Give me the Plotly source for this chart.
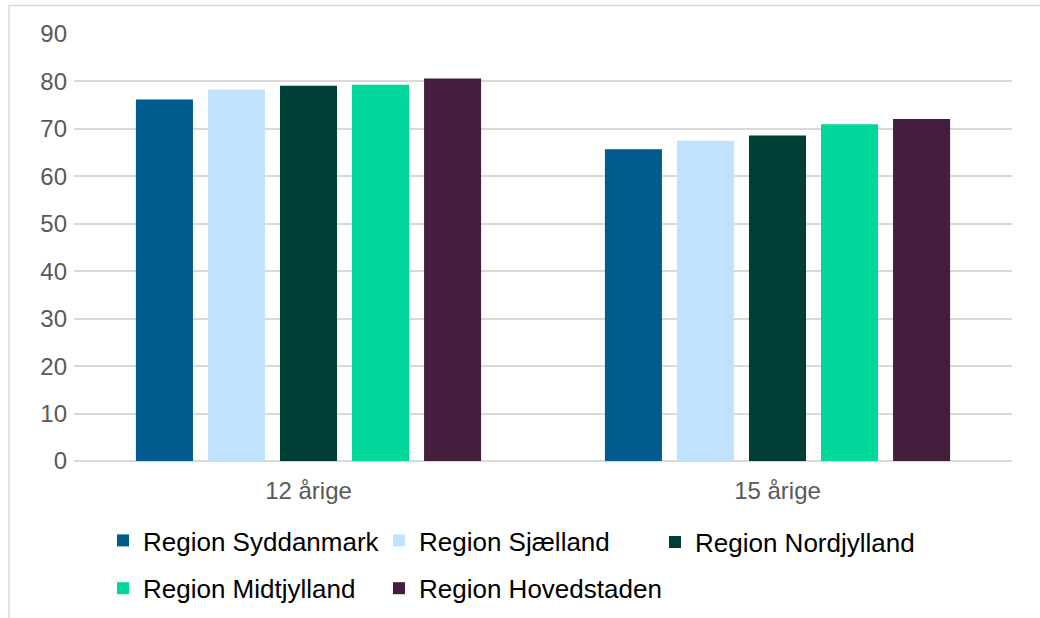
import plotly.graph_objects as go

# Andel (%) per aldersgruppe og region
categories = ["12 årige", "15 årige"]
regions = [
    "Region Syddanmark",
    "Region Sjælland",
    "Region Nordjylland",
    "Region Midtjylland",
    "Region Hovedstaden",
]
syddanmark = [76.2, 65.7]
sjaelland = [78.3, 67.5]
nordjylland = [79.1, 68.6]
midtjylland = [79.3, 71.0]
hovedstaden = [80.6, 72.1]
y_ticks = [0, 10, 20, 30, 40, 50, 60, 70, 80, 90]

series = [syddanmark, sjaelland, nordjylland, midtjylland, hovedstaden]
colors = ["#005B8E", "#BFE3FC", "#003F37", "#00D79B", "#451D3D"]
# legend laid out as three columns
legend_ids = ["legend", "legend2", "legend3", "legend", "legend2"]

FONT = "Liberation Sans, Arial, sans-serif"
TEXT = "#595959"
GRID = "#D9D9D9"

fig = go.Figure()
for name, vals, col, lg in zip(regions, series, colors, legend_ids):
    fig.add_trace(go.Bar(
        x=categories, y=vals, name=name,
        marker=dict(color=col, line=dict(width=0)),
        legend=lg, legendgroup=name,
    ))

W, H = 1040, 618
L, R, T, B = 74, 28, 34, 157
pw, ph = W - L - R, H - T - B


def px_x(x):
    return (x - L) / pw


def px_y(y):
    return (H - B - y) / ph


legend_common = dict(
    orientation="v",
    font=dict(family=FONT, size=26, color="#000000"),
    tracegroupgap=11,
    xanchor="left", yanchor="middle",
    bgcolor="rgba(0,0,0,0)",
)

col_x = [103, 379, 655]
fig.update_layout(
    width=W, height=H,
    margin=dict(l=L, r=R, t=T, b=B, autoexpand=False),
    paper_bgcolor="white", plot_bgcolor="white",
    barmode="group", bargap=0.232, bargroupgap=0.208,
    font=dict(family=FONT, color=TEXT),
    legend=dict(x=px_x(col_x[0]), y=px_y(564.5), **legend_common),
    legend2=dict(x=px_x(col_x[1]), y=px_y(564.5), **legend_common),
    legend3=dict(x=px_x(col_x[2]), y=px_y(542), **legend_common),
    xaxis=dict(
        tickfont=dict(size=24, color=TEXT),
        showgrid=False, showline=False, ticks="",
        ticklabelstandoff=13,
    ),
    yaxis=dict(
        range=[0, 90], tickvals=y_ticks,
        tickfont=dict(size=24, color=TEXT),
        showgrid=True, gridcolor=GRID, gridwidth=1.5,
        zeroline=True, zerolinecolor=GRID, zerolinewidth=2,
        showline=False, ticks="",
        ticklabelstandoff=6,
    ),
    shapes=[dict(
        type="rect", xref="paper", yref="paper",
        x0=px_x(9), x1=px_x(1046), y0=px_y(630), y1=px_y(5.5),
        line=dict(color="#D9D9D9", width=1.5), fillcolor="rgba(0,0,0,0)",
        layer="below",
    )],
)

fig.write_html("out.html")
